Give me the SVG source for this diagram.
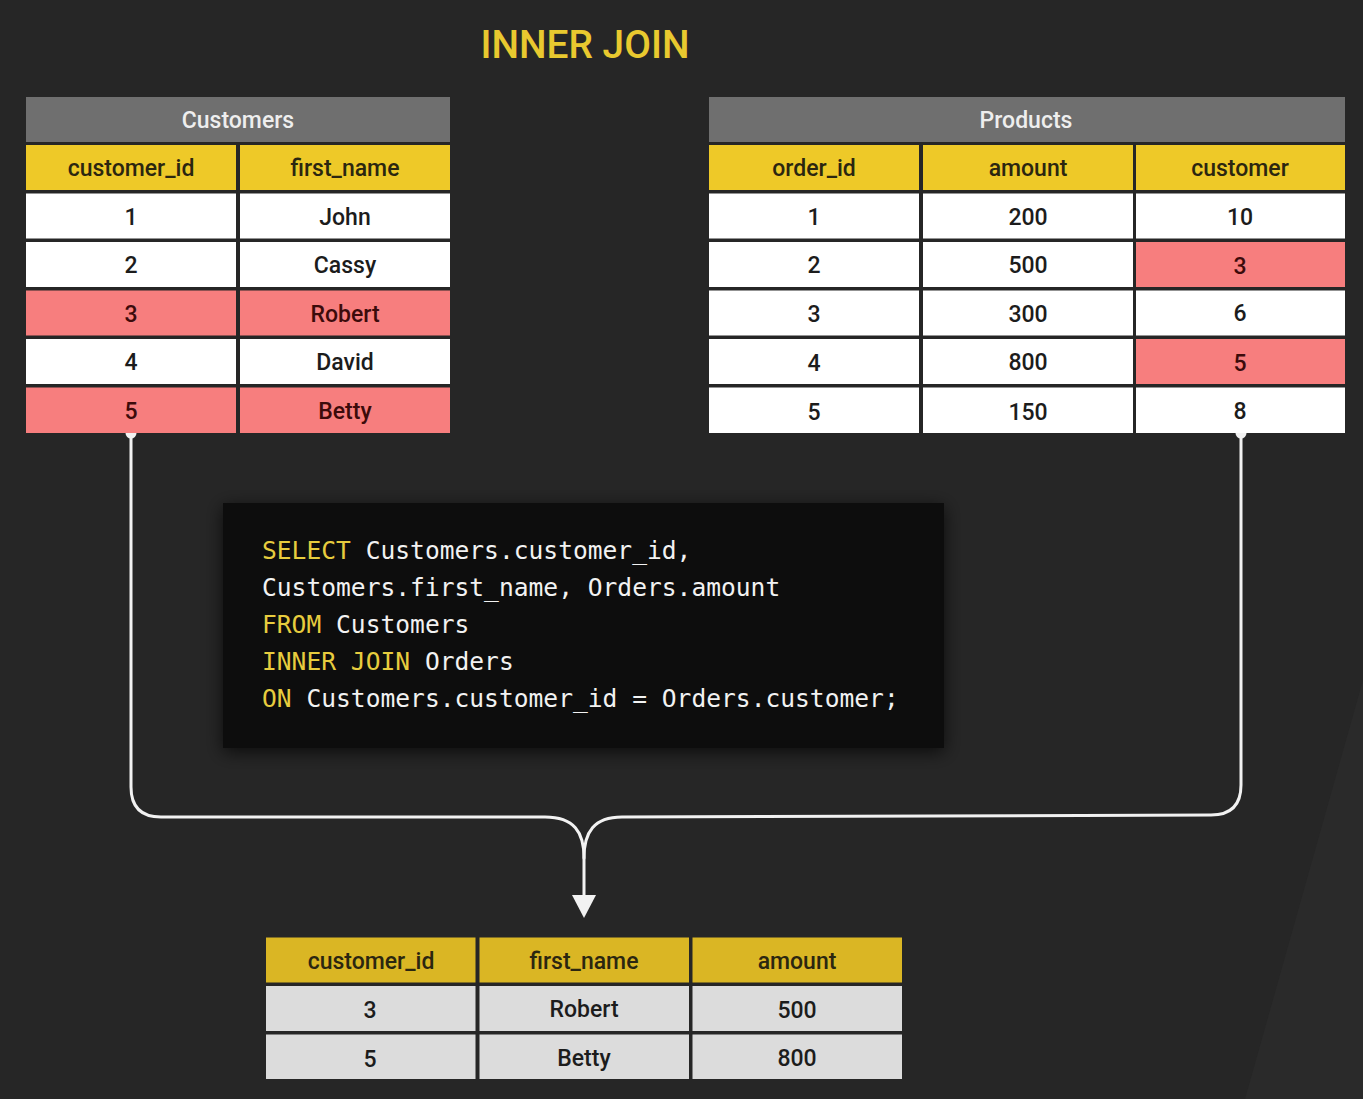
<svg xmlns="http://www.w3.org/2000/svg" width="1363" height="1099" viewBox="0 0 1363 1099">
  <defs>
    <style>
      .bg { fill: #262626; }
      .tbar { fill: #6f6f6f; }
      .hdr { fill: #eec928; }
      .hdr2 { fill: #dab624; }
      .cell { fill: #ffffff; }
      .red { fill: #f77e7e; }
      .res { fill: #dcdcdc; }
      .t { font-family: Roboto, "Liberation Sans", sans-serif; font-size: 23px; font-weight: 500; text-anchor: middle; fill: #1c1c1c; }
      .th { fill: #2b2610; }
      .tr { fill: #3c0b0b; }
      .ttl { font-family: Roboto, "Liberation Sans", sans-serif; font-size: 23px; font-weight: 500; text-anchor: middle; fill: #eeeeee; }
      .code { font-family: "DejaVu Sans Mono", "Liberation Mono", monospace; font-size: 24.6px; fill: #f2f2f2; }
      .kw { fill: #e7cc3e; }
      .conn { fill: none; stroke: #f2f2f2; stroke-width: 3; stroke-linecap: round; stroke-linejoin: round; }
    </style>
    <filter id="shadow" x="-10%" y="-20%" width="120%" height="140%">
      <feDropShadow dx="0" dy="4" stdDeviation="9" flood-color="#000000" flood-opacity="0.7"/>
    </filter>
  </defs>

  <rect class="bg" x="0" y="0" width="1363" height="1099"/>
  <polygon points="1363,680 1363,1099 1245,1099" fill="#2a2a2a"/>

  <text id="title" x="585" y="58" font-family="Roboto, 'Liberation Sans', sans-serif" font-size="39" font-weight="500" fill="#e9c92f" text-anchor="middle" textLength="209" lengthAdjust="spacingAndGlyphs">INNER JOIN</text>

  <!-- connectors -->
  <g id="connectors">
    <circle cx="131" cy="433" r="5.5" fill="#f2f2f2"/>
    <circle cx="1241" cy="433" r="5.5" fill="#f2f2f2"/>
    <path class="conn" d="M131 433 L131 787 Q131 817 161 817 L545 817 C574 817 584 832 584 858 L584 897"/>
    <path class="conn" d="M1241 433 L1241 785 Q1241 815 1211 815 L622 817 C594 817 584 832 584 858"/>
    <polygon points="572,895 596,895 584,918" fill="#f2f2f2"/>
  </g>

  <!-- Customers table -->
  <g id="customers">
    <rect class="tbar" x="26" y="97" width="424" height="45"/>
    <text class="ttl" x="238" y="128">Customers</text>
    <rect class="hdr" x="26" y="145" width="210" height="45"/>
    <rect class="hdr" x="240" y="145" width="210" height="45"/>
    <text class="t th" x="131" y="176">customer_id</text>
    <text class="t th" x="345" y="176">first_name</text>

    <rect class="cell" x="26" y="193.5" width="210" height="45"/>
    <rect class="cell" x="240" y="193.5" width="210" height="45"/>
    <text class="t" x="131" y="224.5">1</text>
    <text class="t" x="345" y="224.5">John</text>

    <rect class="cell" x="26" y="242" width="210" height="45"/>
    <rect class="cell" x="240" y="242" width="210" height="45"/>
    <text class="t" x="131" y="273">2</text>
    <text class="t" x="345" y="273">Cassy</text>

    <rect class="red" x="26" y="290.5" width="210" height="45"/>
    <rect class="red" x="240" y="290.5" width="210" height="45"/>
    <text class="t tr" x="131" y="321.5">3</text>
    <text class="t tr" x="345" y="321.5">Robert</text>

    <rect class="cell" x="26" y="339" width="210" height="45"/>
    <rect class="cell" x="240" y="339" width="210" height="45"/>
    <text class="t" x="131" y="370">4</text>
    <text class="t" x="345" y="370">David</text>

    <rect class="red" x="26" y="387.5" width="210" height="45.5"/>
    <rect class="red" x="240" y="387.5" width="210" height="45.5"/>
    <text class="t tr" x="131" y="419">5</text>
    <text class="t tr" x="345" y="419">Betty</text>
  </g>

  <!-- Products table -->
  <g id="products">
    <rect class="tbar" x="709" y="97" width="636" height="45"/>
    <text class="ttl" x="1026" y="128">Products</text>
    <rect class="hdr" x="709" y="145" width="210" height="45"/>
    <rect class="hdr" x="923" y="145" width="210" height="45"/>
    <rect class="hdr" x="1136" y="145" width="209" height="45"/>
    <text class="t th" x="814" y="176">order_id</text>
    <text class="t th" x="1028" y="176">amount</text>
    <text class="t th" x="1240" y="176">customer</text>

    <rect class="cell" x="709" y="193.5" width="210" height="45"/>
    <rect class="cell" x="923" y="193.5" width="210" height="45"/>
    <rect class="cell" x="1136" y="193.5" width="209" height="45"/>
    <text class="t" x="814" y="224.5">1</text>
    <text class="t" x="1028" y="224.5">200</text>
    <text class="t" x="1240" y="224.5">10</text>

    <rect class="cell" x="709" y="242" width="210" height="45"/>
    <rect class="cell" x="923" y="242" width="210" height="45"/>
    <rect class="red" x="1136" y="242" width="209" height="45"/>
    <text class="t" x="814" y="273">2</text>
    <text class="t" x="1028" y="273">500</text>
    <text class="t tr" x="1240" y="274">3</text>

    <rect class="cell" x="709" y="290.5" width="210" height="45"/>
    <rect class="cell" x="923" y="290.5" width="210" height="45"/>
    <rect class="cell" x="1136" y="290.5" width="209" height="45"/>
    <text class="t" x="814" y="322">3</text>
    <text class="t" x="1028" y="321.5">300</text>
    <text class="t" x="1240" y="320.5">6</text>

    <rect class="cell" x="709" y="339" width="210" height="45"/>
    <rect class="cell" x="923" y="339" width="210" height="45"/>
    <rect class="red" x="1136" y="339" width="209" height="45"/>
    <text class="t" x="814" y="371">4</text>
    <text class="t" x="1028" y="370">800</text>
    <text class="t tr" x="1240" y="371">5</text>

    <rect class="cell" x="709" y="387.5" width="210" height="45.5"/>
    <rect class="cell" x="923" y="387.5" width="210" height="45.5"/>
    <rect class="cell" x="1136" y="387.5" width="209" height="45.5"/>
    <text class="t" x="814" y="420">5</text>
    <text class="t" x="1028" y="419.5">150</text>
    <text class="t" x="1240" y="418.5">8</text>
  </g>

  <!-- SQL code box -->
  <g id="code">
    <rect x="223" y="503" width="721" height="245" fill="#0a0a0a" filter="url(#shadow)"/>
    <text class="code" x="262" y="559"><tspan class="kw">SELECT</tspan> Customers.customer_id,</text>
    <text class="code" x="262" y="596">Customers.first_name, Orders.amount</text>
    <text class="code" x="262" y="633"><tspan class="kw">FROM</tspan> Customers</text>
    <text class="code" x="262" y="670"><tspan class="kw">INNER JOIN</tspan> Orders</text>
    <text class="code" x="262" y="707"><tspan class="kw">ON</tspan> Customers.customer_id = Orders.customer;</text>
  </g>

  <!-- Result table -->
  <g id="result">
    <rect class="hdr2" x="266" y="937.5" width="209.5" height="45"/>
    <rect class="hdr2" x="479.5" y="937.5" width="209.5" height="45"/>
    <rect class="hdr2" x="692.5" y="937.5" width="209.5" height="45"/>
    <text class="t th" x="371" y="969">customer_id</text>
    <text class="t th" x="584" y="969">first_name</text>
    <text class="t th" x="797" y="969">amount</text>

    <rect class="res" x="266" y="986" width="209.5" height="45"/>
    <rect class="res" x="479.5" y="986" width="209.5" height="45"/>
    <rect class="res" x="692.5" y="986" width="209.5" height="45"/>
    <text class="t" x="370" y="1018">3</text>
    <text class="t" x="584" y="1017">Robert</text>
    <text class="t" x="797" y="1018">500</text>

    <rect class="res" x="266" y="1034.5" width="209.5" height="44.5"/>
    <rect class="res" x="479.5" y="1034.5" width="209.5" height="44.5"/>
    <rect class="res" x="692.5" y="1034.5" width="209.5" height="44.5"/>
    <text class="t" x="370" y="1067">5</text>
    <text class="t" x="584" y="1066">Betty</text>
    <text class="t" x="797" y="1066">800</text>
  </g>
</svg>
